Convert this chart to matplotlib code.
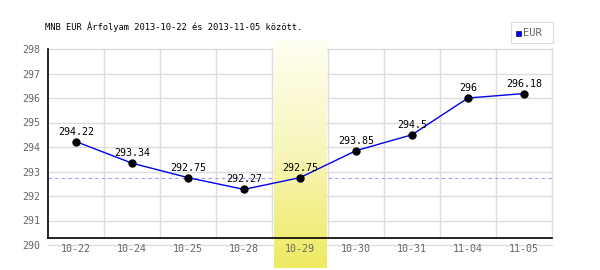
import numpy as np
import matplotlib.pyplot as plt
from matplotlib.colors import LinearSegmentedColormap
from matplotlib.patches import Rectangle

dates = ['10-22', '10-24', '10-25', '10-28', '10-29', '10-30', '10-31', '11-04', '11-05']
rates = [294.22, 293.34, 292.75, 292.27, 292.75, 293.85, 294.5, 296.0, 296.18]
rate_labels = ['294.22', '293.34', '292.75', '292.27', '292.75', '293.85', '294.5', '296', '296.18']
highlight = 4
ref_level = 292.75
yticks = [290, 291, 292, 293, 294, 295, 296, 297, 298]

mono = 'DejaVu Sans Mono'
px = 1 / 24.5  # one pixel in data units (y)
xpx = 1 / 56   # one pixel in data units (x)

fig = plt.figure(figsize=(6, 2.7), dpi=100)
ax = fig.add_axes([48 / 600, 25 / 270, 504 / 600, 196 / 270])
x = np.arange(len(dates))
ax.set_xlim(-0.5, len(dates) - 0.5)
ax.set_ylim(290, 298)
axis_y = 290 + 7 * px

# yellow gradient band over the highlighted day
cmap = LinearSegmentedColormap.from_list('hl', ['#fffff2', '#f8f5b8', '#eeea62'])
grad = np.linspace(0, 1, 100).reshape(-1, 1)
ax.imshow(grad, cmap=cmap, aspect='auto', origin='upper',
          extent=(highlight - 0.5 + 1.5 * xpx, highlight + 0.5 - 1.5 * xpx,
                  290 - 23 * px, 298 + 9 * px),
          clip_on=False, zorder=2.5)

# grid
for v in yticks:
    ax.plot([-0.5, len(dates) - 0.5], [v, v], color='#dddddd', lw=1, zorder=1, clip_on=False)
for b in np.arange(len(dates)) + 0.5:
    ax.plot([b, b], [axis_y, 298], color='#dddddd', lw=1, zorder=1, clip_on=False)

ax.axhline(ref_level, color='#9999ff', lw=0.8, ls=(0, (3, 3)), zorder=2)

for s in ax.spines.values():
    s.set_visible(False)
ax.plot([-0.5, len(dates) - 0.5], [axis_y, axis_y], color='black', lw=1.2, zorder=3, clip_on=False)
ax.plot([-0.5, -0.5], [axis_y, 298], color='black', lw=1.2, zorder=3, clip_on=False)

ax.plot(x, rates, color='#0000ee', lw=1, zorder=4)
ax.plot(x, rates, 'o', color='black', ms=5, zorder=5)
for xi, v, lbl in zip(x, rates, rate_labels):
    ax.text(xi, v + 10 * px, lbl, ha='center', va='center', fontsize=7.2,
            family=mono, color='black', zorder=6)

ax.set_xticks([])
ax.set_yticks([])
for v in yticks:
    ax.text(-0.5 - 8 * xpx, v - 1 * px, str(v), ha='right', va='center',
            fontsize=7.2, family=mono, color='#666666')
for xi, d in zip(x, dates):
    ax.text(xi, 290 - 3.5 * px, d, ha='center', va='center',
            fontsize=7.2, family=mono, color='#666666', zorder=6)

fig.text(45 / 600, 1 - 27 / 270, 'MNB EUR Árfolyam 2013-10-22 és 2013-11-05 között.',
         ha='left', va='center', fontsize=6.3, family=mono, color='black')

# legend
fig.patches.append(Rectangle((511 / 600, 1 - 43 / 270), 42 / 600, 21 / 270,
                             transform=fig.transFigure, fill=False,
                             edgecolor='#dddddd', lw=0.8))
fig.patches.append(Rectangle((515.5 / 600, 1 - 35.5 / 270), 5 / 600, 5 / 270,
                             transform=fig.transFigure, facecolor='#0000ff',
                             edgecolor='#000066', lw=0.5))
fig.text(523 / 600, 1 - 33 / 270, 'EUR', ha='left', va='center',
         fontsize=7.5, family=mono, color='#666666')

fig.savefig('out.png', dpi=100)
